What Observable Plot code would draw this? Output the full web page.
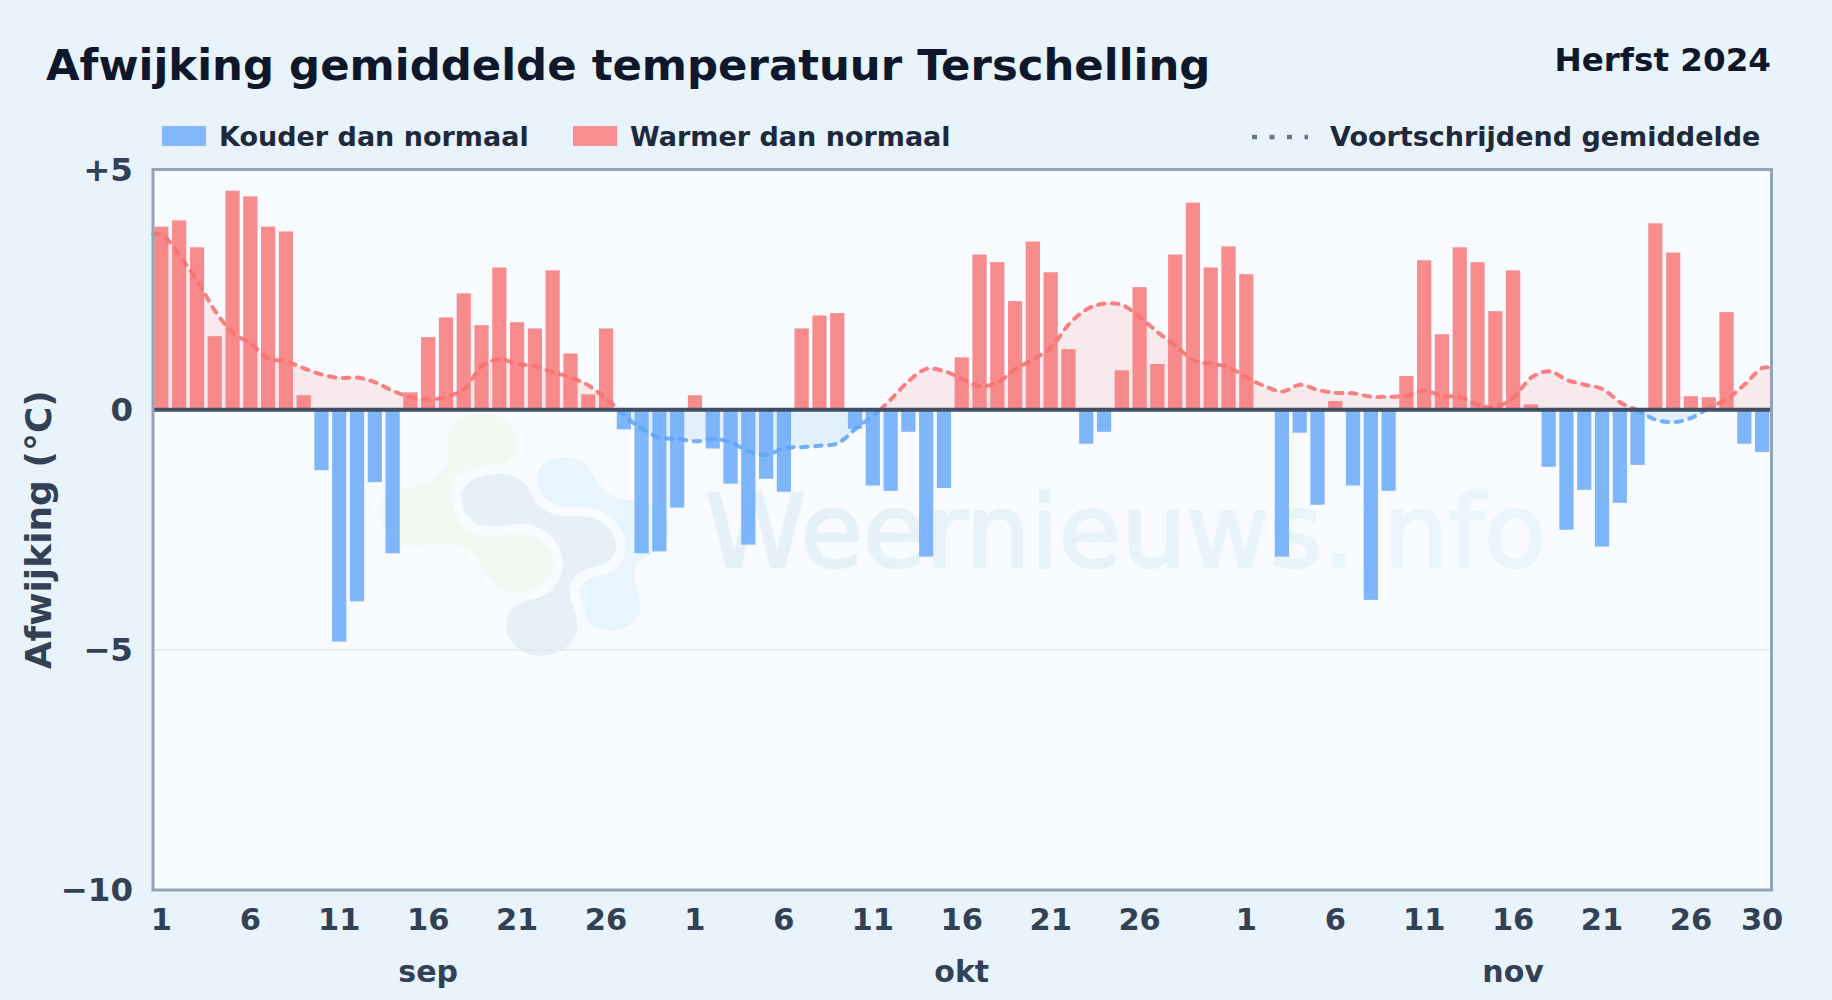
<!DOCTYPE html>
<html lang="nl">
<head>
<meta charset="utf-8">
<title>Afwijking gemiddelde temperatuur Terschelling</title>
<script src="https://cdn.jsdelivr.net/npm/d3@7"></script>
<script src="https://cdn.jsdelivr.net/npm/@observablehq/plot@0.6"></script>
<style>
  html, body { margin: 0; padding: 0; background: #e9f3fc; }
  #page { position: relative; width: 1832px; height: 1000px; overflow: hidden; font-family: "DejaVu Sans", sans-serif; font-weight: 700; background: #e9f3fc; }
  #title { position: absolute; left: 46px; top: 38.5px; font-size: 43.4px; line-height: 52px; color: #0f172a; white-space: nowrap; }
  #season { position: absolute; right: 61px; top: 41px; font-size: 32.6px; line-height: 38px; color: #0f172a; white-space: nowrap; }
  .lg { position: absolute; top: 120px; height: 34px; line-height: 34px; font-size: 27px; color: #1e293b; white-space: nowrap; }
  .sw { position: absolute; top: 126px; width: 44px; height: 20px; }
  #dots { position: absolute; left: 1250px; top: 130px; }
  #chart { position: absolute; left: 0; top: 150px; }
  #chart svg { background: transparent; display: block; }
</style>
</head>
<body>
<div id="page">
  <div id="title">Afwijking gemiddelde temperatuur Terschelling</div>
  <div id="season">Herfst 2024</div>
  <div class="sw" style="left:162px;background:#82b7fb"></div>
  <div class="lg" style="left:219px">Kouder dan normaal</div>
  <div class="sw" style="left:573px;background:#f98f8f"></div>
  <div class="lg" style="left:630px">Warmer dan normaal</div>
  <svg id="dots" width="60" height="14"><line x1="2" y1="7" x2="58" y2="7" stroke="#64748b" stroke-width="4.5" stroke-dasharray="5 12.5"></line></svg>
  <div class="lg" style="left:1330px">Voortschrijdend gemiddelde</div>
  <div id="chart"></div>
</div>
<script>
// Daily deviation (°C), 1 Sep to 30 Nov 2024
const sepValues = [3.8,3.93,3.37,1.52,4.55,4.43,3.8,3.7,0.29,-1.27,-4.84,-4.0,-1.52,-3.0,0.35,1.5,1.91,2.41,1.75,2.95,1.81,1.68,2.89,1.16,0.31,1.68,-0.42,-3.0,-2.96,-2.05];
const oktValues = [0.29,-0.82,-1.55,-2.82,-1.45,-1.72,1.68,1.95,2.0,-0.41,-1.59,-1.7,-0.47,-3.07,-1.64,1.08,3.22,3.06,2.25,3.49,2.85,1.25,-0.72,-0.47,0.81,2.54,0.94,3.22,4.3,2.95,3.39];
const novValues = [2.81,0,-3.07,-0.49,-1.99,0.17,-1.59,-3.97,-1.7,0.69,3.1,1.56,3.37,3.06,2.04,2.89,0.1,-1.2,-2.51,-1.68,-2.86,-1.95,-1.16,3.87,3.26,0.27,0.25,2.02,-0.72,-0.89];
// Moving average read at each day
const sepAvg = [3.65,3.2,2.68,2.05,1.6,1.37,1.07,1.0,0.86,0.73,0.66,0.67,0.57,0.39,0.26,0.21,0.27,0.43,0.91,1.05,0.95,0.9,0.78,0.67,0.5,0.22,-0.12,-0.4,-0.58,-0.61];
const oktAvg = [-0.66,-0.61,-0.68,-0.87,-0.94,-0.8,-0.78,-0.75,-0.7,-0.4,-0.12,0.22,0.6,0.85,0.8,0.64,0.49,0.57,0.85,1.05,1.3,1.78,2.09,2.21,2.18,1.92,1.61,1.33,1.03,0.96,0.88];
const novAvg = [0.67,0.49,0.38,0.52,0.41,0.35,0.34,0.27,0.27,0.29,0.4,0.28,0.27,0.1,0.06,0.26,0.67,0.8,0.62,0.52,0.43,0.15,-0.02,-0.21,-0.26,-0.17,0.05,0.22,0.53,0.87];
// Where the moving average crosses zero (day index)
const avgCrossings = [25.7, 40.4, 82.9, 86.8];
// Axis
const dayTicks = [0,5,10,15,20,25,30,35,40,45,50,55,61,66,71,76,81,86,90];
const dayLabels = ["1","6","11","16","21","26","1","6","11","16","21","26","1","6","11","16","21","26","30"];
const monthTicks = [15,45,76];
const monthLabels = ["sep","okt","nov"];
const yTicks = [5,0,-5,-10];
const yLabels = ["+5","0","\u22125","\u221210"];

const values = [...sepValues, ...oktValues, ...novValues];
const avg = [...sepAvg, ...oktAvg, ...novAvg];
const lastDay = values.length - 1;
const bars = values.map((v, i) => ({i, v}));

// Moving-average points, held flat to the frame edges, split into runs by sign
const pts = [{i: -0.5, v: avg[0]}, ...avg.map((v, i) => ({i, v})), {i: lastDay + 0.5, v: avg[lastDay]},
             ...avgCrossings.map(i => ({i, v: 0}))].sort((a, b) => a.i - b.i);
const runs = [];
let run = 0;
pts.forEach((p, k) => {
  const isCross = p.v === 0;
  const prev = pts[k - 1];
  if (isCross) {
    runs.push({...p, run, sign: prev.v >= 0 ? "warm" : "cold"});
    run++;
    const next = pts[k + 1];
    runs.push({...p, run, sign: next.v >= 0 ? "warm" : "cold"});
  } else {
    runs.push({...p, run, sign: p.v >= 0 ? "warm" : "cold"});
  }
});

const font = '"DejaVu Sans", sans-serif';
const inkColor = "#334155";

// Faint watermark logo behind the data
function logo() {
  const g = d3.create("svg:g").attr("transform", "translate(380,250) scale(0.3333)").attr("stroke-linejoin", "round");
  const grad = g.append("linearGradient").attr("id", "wm");
  grad.append("stop").attr("offset", "0").attr("stop-color", "#e6f0f8");
  grad.append("stop").attr("offset", "1").attr("stop-color", "#ebf5fd");
  const green = "M205,105 C205,60 260,40 320,42 C380,45 412,85 410,135 C408,175 385,195 340,198 C290,203 240,215 215,240 L300,400 L420,400 C480,410 525,450 520,490 C515,550 460,580 410,580 C370,578 330,550 310,510 C295,470 260,432 180,430 C140,432 110,445 80,440 C30,430 0,380 0,330 C0,290 40,268 80,265 C130,255 190,230 205,180 C208,150 205,130 205,105 Z";
  const light = "M470,230 C475,190 520,170 560,172 C610,175 635,210 650,245 C670,285 720,300 770,302 C830,310 870,350 868,390 C860,440 800,470 770,490 C750,530 785,580 782,625 C775,670 730,692 690,692 C640,690 600,650 595,600 C590,560 620,530 680,520 L600,350 C520,330 470,280 470,230 Z";
  const dark = "M245,290 C245,250 290,225 350,222 C410,222 440,245 450,275 C465,320 510,350 570,350 C610,345 660,350 690,390 C720,430 710,470 680,490 C650,505 590,500 570,560 C565,600 595,640 593,680 C585,740 530,768 480,768 C420,768 378,720 378,675 C380,620 420,605 470,595 C520,585 550,530 550,490 C545,430 500,375 430,372 C390,372 340,385 300,375 C265,360 245,325 245,290 Z";
  g.append("path").attr("d", green).attr("fill", "#f3f9f2");
  g.append("path").attr("d", light).attr("fill", "#e8f5fe");
  g.append("path").attr("d", dark).attr("fill", "#f8fbff").attr("stroke", "#f8fbff").attr("stroke-width", 58);
  g.append("path").attr("d", dark).attr("fill", "#e7f0f8");
  return g.node();
}

const chart = Plot.plot({
  width: 1832,
  height: 850,
  marginTop: 19,
  marginBottom: 110.5,
  marginLeft: 152.5,
  marginRight: 61,
  style: {background: "transparent", fontFamily: font, fontWeight: 700, overflow: "visible"},
  x: {type: "linear", domain: [-0.5, lastDay + 0.5], axis: null},
  y: {domain: [-10, 5], axis: null},
  color: {domain: ["warm", "cold"], range: ["#f87171", "#60a5fa"]},
  marks: [
    Plot.frame({fill: "#f8fbff", stroke: "none"}),
    logo,
    Plot.ruleY([-5], {stroke: "#e2e8f0", strokeWidth: 1.5}),
    Plot.text(["Weernieuws.info"], {x: [54.2], y: [-2.6], fontSize: 102, fontWeight: 400, fill: "url(#wm)", stroke: "url(#wm)", strokeWidth: 2.5, textAnchor: "middle", fontFamily: font}),
    Plot.areaY(runs, {x: "i", y1: 0, y2: "v", z: "run", fill: "sign", fillOpacity: 0.13, curve: "catmull-rom"}),
    Plot.rect(bars, {x1: d => d.i - 0.4, x2: d => d.i + 0.4, y1: 0, y2: "v",
      fill: d => d.v >= 0 ? "#f87171" : "#60a5fa", fillOpacity: 0.8}),
    Plot.line(runs, {x: "i", y: "v", z: "run", stroke: "sign", strokeWidth: 4, strokeOpacity: 0.88,
      strokeDasharray: "6.5 7.5", strokeLinecap: "round", curve: "catmull-rom"}),
    Plot.ruleY([0], {stroke: "#414f66", strokeWidth: 4}),
    Plot.frame({stroke: "#94a3b8", strokeWidth: 3}),
    Plot.axisY(yTicks, {tickSize: 0, tickPadding: 20, fontSize: 32.5, fill: inkColor, label: null, dy: 1,
      tickFormat: d => yLabels[yTicks.indexOf(d)]}),
    Plot.axisX(dayTicks, {tickSize: 0, tickPadding: 18, fontSize: 30.5, fill: inkColor, label: null, anchor: "bottom", dx: -0.5,
      tickFormat: d => dayLabels[dayTicks.indexOf(d)]}),
    Plot.axisX(monthTicks, {tickSize: 0, tickPadding: 71, fontSize: 30, fill: inkColor, label: null, anchor: "bottom", dx: -0.5,
      tickFormat: d => monthLabels[monthTicks.indexOf(d)]}),
    Plot.text(["Afwijking (\u00B0C)"], {frameAnchor: "left", dx: -114, rotate: -90, fontSize: 36, fontWeight: 700, fill: inkColor, textAnchor: "middle", fontFamily: font})
  ]
});
document.getElementById("chart").appendChild(chart);
</script>
</body>
</html>
